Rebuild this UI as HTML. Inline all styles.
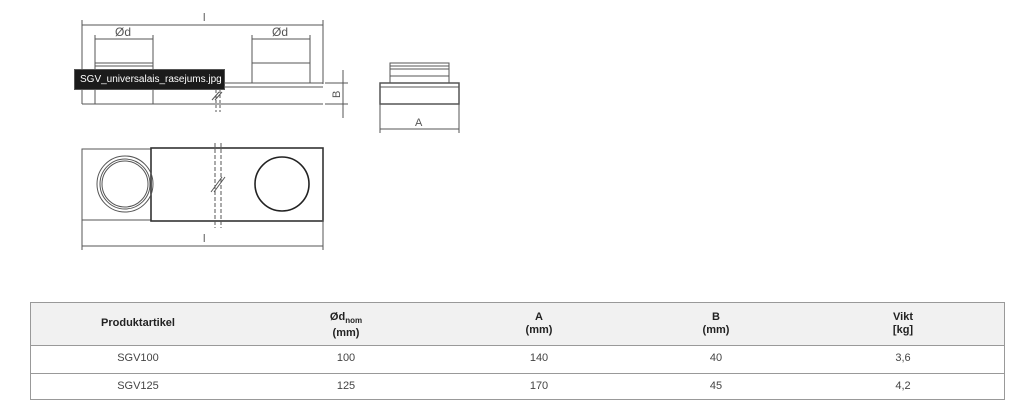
<!DOCTYPE html>
<html><head><meta charset="utf-8"><style>
body{margin:0;width:1024px;height:412px;background:#fff;position:relative;overflow:hidden;font-family:"Liberation Sans",sans-serif}
.t{position:absolute;left:30px;width:975px;top:302px;height:98px;border:1px solid #999;box-sizing:border-box}
.hd{position:absolute;left:0;top:0;width:100%;height:42px;background:#f1f1f1;border-bottom:1px solid #999}
.r1{position:absolute;left:0;top:70px;width:100%;border-top:1px solid #999}
.c{position:absolute;transform:translateX(-50%);text-align:center;font-size:11px;color:#444;line-height:13px;white-space:nowrap}
.b{font-weight:bold;color:#222}
</style></head><body>
<svg width="1024" height="290" style="position:absolute;left:0;top:0" font-family="Liberation Sans" fill="none" stroke="#555" stroke-width="1">
<line x1="82" y1="25" x2="323" y2="25"/>
<line x1="82" y1="20" x2="82" y2="104"/><line x1="323" y1="20" x2="323" y2="84"/>
<text x="203" y="21" fill="#555" stroke="none" font-size="11">l</text>
<line x1="95" y1="39" x2="153" y2="39"/><line x1="95" y1="35" x2="95" y2="104"/><line x1="153" y1="35" x2="153" y2="104"/>
<text x="115" y="36" fill="#555" stroke="none" font-size="12">Ød</text>
<line x1="252" y1="39" x2="310" y2="39"/><line x1="252" y1="35" x2="252" y2="83"/><line x1="310" y1="35" x2="310" y2="83"/>
<text x="272" y="36" fill="#555" stroke="none" font-size="12">Ød</text>
<rect x="95" y="63" width="58" height="3"/>
<rect x="252" y="63" width="58" height="20"/>
<line x1="153" y1="83" x2="323" y2="83"/><line x1="153" y1="87" x2="323" y2="87"/>
<line x1="82" y1="104" x2="323" y2="104"/>
<line x1="216" y1="90" x2="216" y2="112" stroke-dasharray="3,2"/><line x1="220" y1="90" x2="220" y2="112" stroke-dasharray="3,2"/>
<line x1="212" y1="100" x2="219" y2="92"/><line x1="215" y1="100" x2="222" y2="92"/>
<line x1="343" y1="70" x2="343" y2="118"/><line x1="325" y1="83" x2="348" y2="83"/><line x1="325" y1="104" x2="348" y2="104"/>
<text x="0" y="0" fill="#555" stroke="none" font-size="11" transform="translate(340,98) rotate(-90)">B</text>
<rect x="390" y="63" width="59" height="20"/>
<line x1="390" y1="66" x2="449" y2="66"/><line x1="390" y1="69" x2="449" y2="69"/><line x1="390" y1="76" x2="449" y2="76"/>
<rect x="380" y="83" width="79" height="21" stroke-width="1.5"/>
<line x1="380" y1="87" x2="459" y2="87"/>
<line x1="380" y1="104" x2="380" y2="133"/><line x1="459" y1="104" x2="459" y2="133"/>
<line x1="380" y1="129" x2="459" y2="129"/>
<text x="415" y="126" fill="#555" stroke="none" font-size="11">A</text>
<rect x="82" y="149" width="69" height="71"/>
<rect x="151" y="148" width="172" height="73" stroke="#333" stroke-width="1.6"/>
<circle cx="125" cy="184" r="28"/><circle cx="125" cy="184" r="25"/><circle cx="125" cy="184" r="23"/>
<circle cx="282" cy="184" r="27" stroke="#222" stroke-width="1.6"/>
<line x1="215" y1="143" x2="215" y2="228" stroke-dasharray="4,2"/><line x1="221" y1="143" x2="221" y2="228" stroke-dasharray="4,2"/>
<line x1="211" y1="192" x2="222" y2="177"/><line x1="214" y1="192" x2="225" y2="177"/>
<line x1="82" y1="220" x2="82" y2="250"/><line x1="323" y1="220" x2="323" y2="250"/>
<line x1="82" y1="246" x2="323" y2="246"/>
<text x="203" y="242" fill="#555" stroke="none" font-size="11">l</text>
</svg>
<div style="position:absolute;left:74px;top:69px;width:151px;height:21px;background:#1b1b1b;border:1px solid #555;box-sizing:border-box;color:#fff;font-size:10px;line-height:19px;padding-left:5px;white-space:nowrap;overflow:hidden">SGV_universalais_rasejums.jpg</div>
<div class="t"><div class="hd"></div><div class="r1"></div></div>
<div class="c b" style="left:138px;top:317px">Produktartikel</div>
<div class="c b" style="left:346px;top:311px">Ød<sub style="font-size:8px">nom</sub><br>(mm)</div>
<div class="c b" style="left:539px;top:311px">A<br>(mm)</div>
<div class="c b" style="left:716px;top:311px">B<br>(mm)</div>
<div class="c b" style="left:903px;top:311px">Vikt<br>[kg]</div>
<div class="c" style="left:138px;top:352px">SGV100</div>
<div class="c" style="left:346px;top:352px">100</div>
<div class="c" style="left:539px;top:352px">140</div>
<div class="c" style="left:716px;top:352px">40</div>
<div class="c" style="left:903px;top:352px">3,6</div>
<div class="c" style="left:138px;top:380px">SGV125</div>
<div class="c" style="left:346px;top:380px">125</div>
<div class="c" style="left:539px;top:380px">170</div>
<div class="c" style="left:716px;top:380px">45</div>
<div class="c" style="left:903px;top:380px">4,2</div>
</body></html>
